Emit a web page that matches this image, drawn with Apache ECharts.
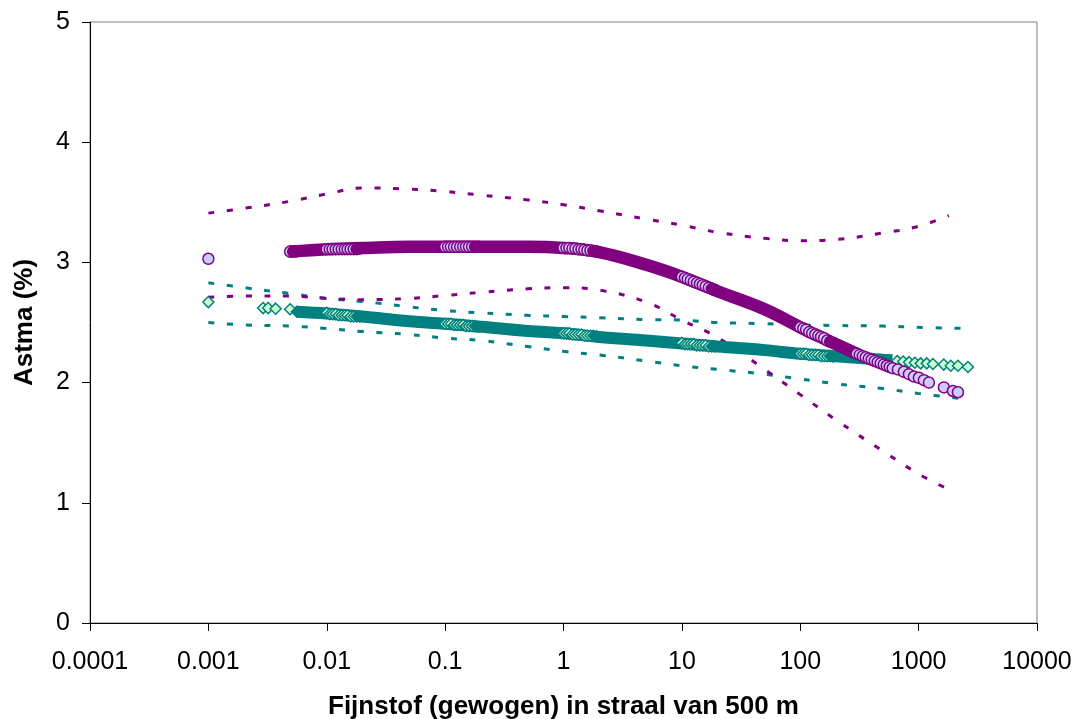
<!DOCTYPE html>
<html><head><meta charset="utf-8">
<script src="https://cdn.jsdelivr.net/npm/echarts@6/dist/echarts.min.js"></script>
<style>html,body{margin:0;padding:0;background:#fff}#c{width:1076px;height:719px}</style>
</head><body><div id="c"></div>
<script>
// ---- tick labels ----
const xTickLabels = ['0.0001','0.001','0.01','0.1','1','10','100','1000','10000'];

// ---- dashed bands ----
const tealUpperX = [0.001,0.002,0.005,0.01,0.02,0.05,0.1,0.2,0.5,1,2,5,10,20,50,100,200,500,1000,2600];
const tealUpperY = [2.83,2.79,2.74,2.70,2.675,2.63,2.60,2.58,2.56,2.55,2.54,2.525,2.52,2.50,2.49,2.48,2.475,2.47,2.46,2.45];
const tealLowerX = [0.001,0.002,0.005,0.01,0.02,0.05,0.1,0.2,0.5,1,2,5,10,20,50,100,200,500,1000,2600];
const tealLowerY = [2.50,2.48,2.47,2.45,2.425,2.40,2.37,2.35,2.30,2.26,2.23,2.18,2.14,2.11,2.07,2.03,1.99,1.95,1.91,1.86];
const purpleUpperX = [0.001,0.002,0.005,0.01,0.02,0.05,0.1,0.2,0.5,1,2,5,10,20,50,100,200,500,1000,1800];
const purpleUpperY = [3.41,3.45,3.51,3.57,3.62,3.61,3.59,3.56,3.52,3.48,3.43,3.36,3.31,3.25,3.20,3.18,3.19,3.245,3.30,3.39];
const purpleLowerX = [0.001,0.002,0.005,0.01,0.02,0.05,0.1,0.2,0.5,1,2,5,10,20,50,100,200,500,1000,1800];
const purpleLowerY = [2.71,2.72,2.72,2.70,2.69,2.70,2.725,2.75,2.78,2.79,2.77,2.67,2.52,2.375,2.11,1.90,1.69,1.43,1.24,1.11];

// ---- teal diamonds (dense band + visible markers) ----
const tealBandX = [0.0056,0.01,0.02,0.05,0.1,0.2,0.5,1,2,5,10,20,50,100,200,500,600];
const tealBandY = [2.59,2.575,2.55,2.51,2.49,2.465,2.43,2.41,2.38,2.35,2.325,2.30,2.27,2.24,2.22,2.19,2.185];
const tealMarkX = [0.001,0.0029,0.0032,0.0037,0.0049,
  0.0100,0.0106,0.0112,0.0119,0.0126,0.0134,0.0142,0.0150,0.0159,0.0169,
  0.100,0.106,0.112,0.119,0.126,0.134,0.142,0.150,0.159,0.169,
  1.00,1.06,1.12,1.19,1.26,1.34,1.42,1.50,1.59,1.69,
  10.0,10.6,11.2,11.9,12.6,13.4,14.2,15.0,15.9,16.9,
  100,106,112,119,126,134,142,150,159,169,
  660,740,830,930,1040,1170,1320,1630,1870,2150,2610];
const tealMarkY = [2.67,2.62,2.62,2.615,2.61,
  2.58,2.57,2.57,2.57,2.56,2.56,2.56,2.56,2.55,2.55,
  2.49,2.49,2.49,2.48,2.48,2.48,2.48,2.47,2.47,2.47,
  2.41,2.41,2.41,2.40,2.40,2.40,2.40,2.39,2.39,2.39,
  2.33,2.32,2.32,2.32,2.32,2.31,2.31,2.31,2.31,2.30,
  2.24,2.24,2.24,2.23,2.23,2.23,2.23,2.22,2.22,2.22,
  2.18,2.175,2.17,2.165,2.16,2.16,2.155,2.15,2.14,2.14,2.13];
const tealDenseX = [0.0056,0.0179,0.0190,0.179,0.190,1.79,1.90,17.9,19.0,179,190];
const tealDenseY = [2.59,2.55,2.55,2.47,2.465,2.39,2.385,2.30,2.30,2.22,2.215];

// ---- purple circles (dense band + visible markers) ----
const purpleBandX = [0.005,0.01,0.02,0.05,0.1,0.2,0.5,1,2,5,10,20,50,100,200,300];
const purpleBandY = [3.09,3.11,3.12,3.13,3.13,3.13,3.13,3.12,3.085,2.98,2.88,2.76,2.61,2.46,2.32,2.24];
const purpleMarkX = [0.001,0.0049,
  0.0100,0.0106,0.0112,0.0119,0.0126,0.0134,0.0142,0.0150,0.0159,0.0169,
  0.100,0.106,0.112,0.119,0.126,0.134,0.142,0.150,0.159,0.169,
  1.00,1.06,1.12,1.19,1.26,1.34,1.42,1.50,1.59,1.69,
  10.0,10.6,11.2,11.9,12.6,13.4,14.2,15.0,15.9,16.9,
  100,106,112,119,126,134,142,150,159,169,
  300,318,337,357,379,401,426,451,478,507,538,570,604,
  668,750,828,912,1005,1107,1222,
  1634,1950,2148];
const purpleMarkY = [3.03,3.09,
  3.11,3.11,3.11,3.11,3.11,3.11,3.11,3.11,3.11,3.11,
  3.13,3.13,3.13,3.13,3.13,3.13,3.13,3.13,3.13,3.13,
  3.12,3.12,3.12,3.115,3.115,3.11,3.11,3.105,3.10,3.10,
  2.88,2.87,2.86,2.85,2.84,2.83,2.82,2.81,2.80,2.79,
  2.46,2.45,2.44,2.42,2.41,2.40,2.39,2.38,2.37,2.35,
  2.24,2.23,2.22,2.21,2.20,2.19,2.18,2.17,2.16,2.15,2.14,2.13,2.12,
  2.11,2.09,2.07,2.05,2.04,2.02,2.00,
  1.96,1.93,1.92];
const purpleDenseX = [0.0052,0.0055,0.0179,0.0190,0.179,0.190,1.79,1.90,17.9,19.0,179,190];
const purpleDenseY = [3.09,3.09,3.11,3.115,3.13,3.13,3.095,3.09,2.78,2.77,2.34,2.33];

const zip = (xs, ys) => xs.map((x, i) => [x, ys[i]]);

const PURPLE = '#800080', LAV = '#ccccff', TEAL = '#008080', MINT = '#ccffcc';
const FONT = 'Liberation Sans, Arial, sans-serif';

function dashed(data, color, z) {
  return { type: 'line', data, smooth: 0.4, showSymbol: false, symbol: 'none', z,
    lineStyle: { color, width: 3, type: [6, 12.7] }, silent: true };
}
function band(data, color, width, z, cap) {
  return { type: 'line', data, smooth: 0.4, showSymbol: false, symbol: 'none', z,
    lineStyle: { color, width, cap }, silent: true };
}
function marks(data, symbol, fill, stroke, z) {
  return { type: 'scatter', data, symbol, symbolSize: 11, z, silent: true,
    itemStyle: { color: fill, borderColor: stroke, borderWidth: 1.5, opacity: 1 } };
}

const chart = echarts.init(document.getElementById('c'), null, { renderer: 'canvas' });
chart.setOption({
  animation: false,
  backgroundColor: '#ffffff',
  grid: { left: 90, right: 39, top: 22, bottom: 96, show: true, borderColor: '#808080', borderWidth: 1,
    backgroundColor: 'transparent', containLabel: false, outerBoundsMode: 'none' },
  xAxis: {
    type: 'log', logBase: 10, min: 0.0001, max: 10000,
    axisLine: { show: true, lineStyle: { color: '#000', width: 1 } },
    axisTick: { show: true, inside: false, length: 8, lineStyle: { color: '#000', width: 1 } },
    minorTick: { show: false }, splitLine: { show: false },
    axisLabel: { fontSize: 25, color: '#000', fontFamily: FONT, margin: 27,
      formatter: v => xTickLabels[Math.round(Math.log10(v)) + 4] },
    name: 'Fijnstof (gewogen) in straal van 500 m', nameLocation: 'middle', nameGap: 71,
    nameTextStyle: { fontSize: 26, fontWeight: 'bold', color: '#000', fontFamily: FONT }
  },
  yAxis: {
    type: 'value', min: 0, max: 5, interval: 1,
    axisLine: { show: true, lineStyle: { color: '#000', width: 1 } },
    axisTick: { show: true, inside: false, length: 8, lineStyle: { color: '#000', width: 1 } },
    splitLine: { show: false },
    axisLabel: { fontSize: 25, color: '#000', fontFamily: FONT, margin: 20 },
    name: 'Astma (%)', nameLocation: 'middle', nameGap: 52, nameRotate: 90,
    nameTextStyle: { fontSize: 26, fontWeight: 'bold', color: '#000', fontFamily: FONT }
  },
  series: [
    dashed(zip(tealUpperX, tealUpperY), TEAL, 2),
    dashed(zip(tealLowerX, tealLowerY), TEAL, 2),
    dashed(zip(purpleUpperX, purpleUpperY), PURPLE, 2),
    dashed(zip(purpleLowerX, purpleLowerY), PURPLE, 2),
    band(zip(tealBandX, tealBandY), TEAL, 12, 3, 'butt'),
    marks(zip(tealMarkX, tealMarkY), 'diamond', MINT, TEAL, 4),
    marks(zip(tealDenseX, tealDenseY), 'diamond', TEAL, TEAL, 5),
    band(zip(purpleBandX, purpleBandY), PURPLE, 12.5, 6, 'round'),
    marks(zip(purpleMarkX, purpleMarkY), 'circle', LAV, PURPLE, 7),
    marks(zip(purpleDenseX, purpleDenseY), 'circle', PURPLE, PURPLE, 8)
  ]
});
</script>
</body></html>
